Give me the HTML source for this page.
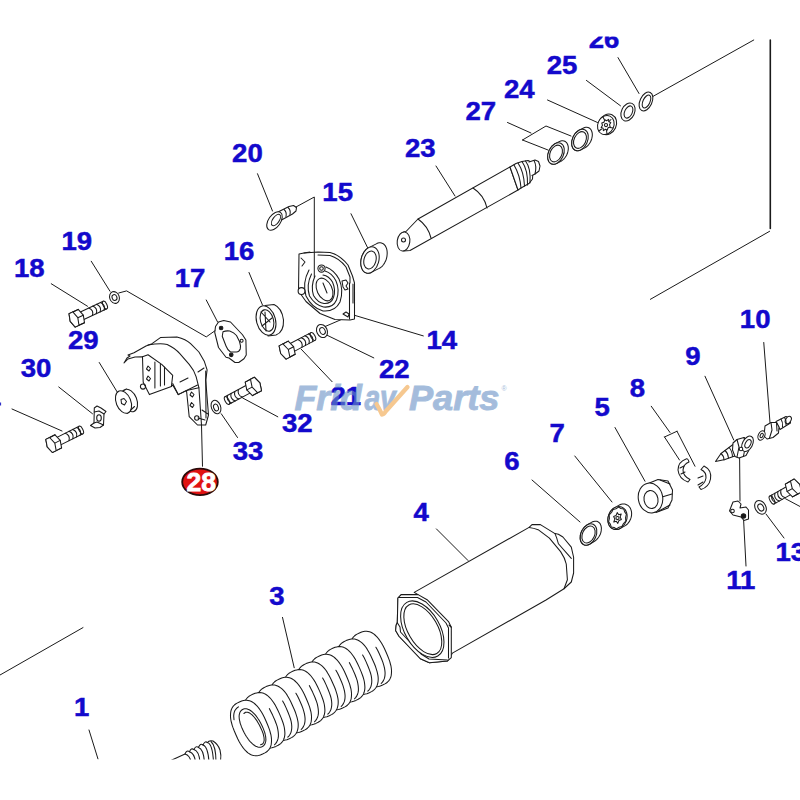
<!DOCTYPE html>
<html><head><meta charset="utf-8"><style>
html,body{margin:0;padding:0;background:#fff;width:800px;height:800px;overflow:hidden}
svg{display:block}
.lb text{font-family:"Liberation Sans",sans-serif;font-weight:bold;font-size:26.5px;fill:#1309cc;stroke:#1309cc;stroke-width:0.5}
.ln{stroke:#1a1a1a;stroke-width:1.0;fill:none;stroke-linecap:round;stroke-linejoin:round}
.pt{stroke:#1a1a1a;stroke-width:1.05;fill:#fff;stroke-linecap:round;stroke-linejoin:round}
.pn{stroke:#1a1a1a;stroke-width:1.05;fill:none;stroke-linecap:round;stroke-linejoin:round}
</style></head><body>
<svg width="800" height="800" viewBox="0 0 800 800">
<rect width="800" height="800" fill="#fff"/>
<g class="ln" id="leaders">
<path d="M618 57.6 L639 93.5"/>
<path d="M586.4 80.4 L620.5 105.8"/>
<path d="M547.5 100 L597.5 122.5"/>
<path d="M651 97.5 L753.75 40"/>
<path d="M770.3 40 L770.3 228.4" style="stroke-width:1.6"/>
<path d="M769.6 231.3 L650.4 299.3"/>
<path d="M436 166 L455 196"/>
<path d="M257.5 173.75 L272.5 211"/>
<path d="M351 213.75 L367.5 247.5"/>
<path d="M249 272.5 L262.5 305"/>
<path d="M91.25 261.25 L110 291.25"/>
<path d="M51.25 283.75 L87.5 306.25"/>
<path d="M99.25 362.5 L117.5 392.5"/>
<path d="M58.75 387 L92.5 413.75"/>
<path d="M12 409 L62 431"/>
<path d="M354.5 315.3 L423.3 335.9"/>
<path d="M325.6 334.5 L373.8 357.9"/>
<path d="M301.2 349.2 L332.1 381.7"/>
<path d="M242.7 398 L277.8 416.8"/>
<path d="M221.25 413.75 L237.5 437.5"/>
<path d="M201.5 425 L202.5 466.25"/>
<path d="M763.75 342.5 L770 422.5"/>
<path d="M705 376.25 L733.75 440"/>
<path d="M651.25 406.25 L670 432.5"/>
<path d="M615 427.5 L645 481.25"/>
<path d="M574.8 456 L612 502"/>
<path d="M532 480 L580 522"/>
<path d="M739.6 457 L740 501"/>
<path d="M743.6 520 L746 566"/>
<path d="M766 514 L784 538"/>
<path d="M436.4 528.9 L468 560.5"/>
<path d="M282.5 617.4 L294.2 667.7"/>
<path d="M89 730 L98 759"/>
<path d="M0 675 L83 627.6"/>
<path d="M785.6 498.8 L800 506.5"/>
</g>
<g class="pt">
<path d="M81.2 320.8 L106.8 308.8 L103.2 301.2 L77.7 313.2 Z"/>
<ellipse cx="105.0" cy="305.0" rx="1.9" ry="4.2" transform="rotate(-25.1 105.0 305.0)"/>
<path class="pn" d="M92.4 315.5 Q94.1 310.1 88.9 307.9"/>
<path class="pn" d="M96.3 313.7 Q98.0 308.3 92.8 306.1"/>
<path class="pn" d="M100.2 311.9 Q101.8 306.5 96.6 304.3"/>
<path class="pn" d="M104.1 310.1 Q105.7 304.7 100.5 302.5"/>
<path d="M69.0 313.7 L74.4 311.2 L78.2 309.4 L83.3 315.2 L84.5 322.7 L80.6 324.5 L75.2 327.1 L70.2 321.3 Z"/>
<path class="pn" d="M77.8 317.7 L83.3 315.2"/>
<path class="pn" d="M79.0 325.3 L84.5 322.7"/>
<path class="pn" d="M72.8 311.9 L78.2 309.4"/>
<path d="M77.8 317.7 L79.0 325.3 L75.2 327.1 L70.2 321.3 L69.0 313.7 L72.8 311.9 Z"/>
</g>
<g class="pt">
<path d="M58.2 446.1 L82.9 433.8 L79.1 426.2 L54.5 438.6 Z"/>
<ellipse cx="81.0" cy="430.0" rx="1.9" ry="4.2" transform="rotate(-26.6 81.0 430.0)"/>
<path class="pn" d="M69.0 440.7 Q70.5 435.2 65.2 433.2"/>
<path class="pn" d="M72.8 438.8 Q74.3 433.4 69.0 431.3"/>
<path class="pn" d="M76.5 436.9 Q78.0 431.5 72.7 429.4"/>
<path class="pn" d="M80.3 435.1 Q81.8 429.6 76.5 427.6"/>
<path d="M45.8 439.4 L51.2 436.7 L55.0 434.8 L60.2 440.4 L61.6 447.9 L57.8 449.9 L52.4 452.5 L47.2 446.9 Z"/>
<path class="pn" d="M54.8 443.1 L60.2 440.4"/>
<path class="pn" d="M56.2 450.6 L61.6 448.0"/>
<path class="pn" d="M49.6 437.5 L55.0 434.8"/>
<path d="M54.8 443.1 L56.2 450.6 L52.4 452.5 L47.2 446.9 L45.8 439.4 L49.6 437.5 Z"/>
</g>
<g class="pt">
<path d="M291.9 352.6 L315.0 340.4 L311.0 332.6 L287.8 344.8 Z"/>
<ellipse cx="313.0" cy="336.5" rx="2.0" ry="4.4" transform="rotate(-27.8 313.0 336.5)"/>
<path class="pn" d="M301.9 347.3 Q303.3 341.6 297.8 339.5"/>
<path class="pn" d="M305.4 345.5 Q306.9 339.7 301.3 337.7"/>
<path class="pn" d="M309.0 343.6 Q310.4 337.8 304.9 335.8"/>
<path class="pn" d="M312.6 341.7 Q314.0 336.0 308.5 333.9"/>
<path d="M279.1 345.9 L288.2 341.1 L293.6 346.7 L295.2 354.3 L291.4 356.3 L286.1 359.1 L280.7 353.5 Z"/>
<path class="pn" d="M288.3 349.5 L293.6 346.7"/>
<path class="pn" d="M289.9 357.1 L295.2 354.3"/>
<path class="pn" d="M282.9 343.9 L288.2 341.1"/>
<path d="M288.3 349.5 L289.9 357.1 L286.1 359.1 L280.7 353.5 L279.1 345.9 L282.9 343.9 Z"/>
</g>
<g class="pt">
<path d="M248.7 384.0 L225.0 396.7 L229.0 404.3 L252.7 391.6 Z"/>
<ellipse cx="227.0" cy="400.5" rx="1.9" ry="4.3" transform="rotate(151.9 227.0 400.5)"/>
<path class="pn" d="M238.4 389.5 Q237.0 395.2 242.4 397.1"/>
<path class="pn" d="M234.8 391.5 Q233.4 397.1 238.8 399.1"/>
<path class="pn" d="M231.1 393.4 Q229.7 399.0 235.2 401.0"/>
<path class="pn" d="M227.5 395.4 Q226.1 401.0 231.6 402.9"/>
<path d="M245.2 382.1 L254.3 377.2 L259.9 382.9 L261.5 390.7 L257.6 392.8 L252.4 395.6 L246.8 389.9 Z"/>
<path class="pn" d="M252.1 387.1 L246.8 389.9"/>
<path class="pn" d="M250.5 379.3 L245.2 382.1"/>
<path class="pn" d="M257.7 392.8 L252.4 395.6"/>
<path d="M252.1 387.1 L250.5 379.3 L254.3 377.2 L259.9 382.9 L261.5 390.7 L257.7 392.8 Z"/>
</g>
<g class="pt">
<path d="M788.6 485.5 L769.8 496.1 L774.2 503.9 L793.0 493.4 Z"/>
<ellipse cx="772.0" cy="500.0" rx="2.0" ry="4.5" transform="rotate(150.6 772.0 500.0)"/>
<path class="pn" d="M780.9 489.8 Q779.6 495.7 785.3 497.7"/>
<path class="pn" d="M777.9 491.5 Q776.6 497.4 782.3 499.4"/>
<path class="pn" d="M774.9 493.2 Q773.6 499.1 779.3 501.1"/>
<path class="pn" d="M771.9 494.9 Q770.6 500.8 776.3 502.7"/>
<path d="M785.3 484.1 L789.0 482.0 L794.2 479.0 L799.7 484.4 L801.5 491.9 L797.8 494.0 L792.5 496.9 L787.1 491.5 Z"/>
<path class="pn" d="M792.3 488.6 L787.1 491.5"/>
<path class="pn" d="M790.5 481.1 L785.3 484.1"/>
<path class="pn" d="M797.8 494.0 L792.5 496.9"/>
<path d="M792.3 488.6 L790.5 481.1 L794.2 479.0 L799.7 484.4 L801.5 491.9 L797.8 494.0 Z"/>
</g><g id="p4" class="pt">
<path d="M414.2 592.4 L529.1 527.4 L532 524.6 L540.4 524.6 L555 533.6 L558.4 534.2 L562.9 537 L571.3 547.1 L573.6 557.25 L573.6 573 L571.3 582 L564 588.75 L546 600 L452.4 653.1 L447.4 661 L429.4 662.7 L420.4 658.75 L399 636.25 L395.6 630.6 L396.2 625 L397.3 622.75 L397.9 598 L401.25 594.6 L418.1 594.6 Z"/>
<path class="pn" d="M529.1 527.4 Q534 528 538.1 529.7 L549.4 538.1 L560.6 551.6 Q565 558 566.25 564 L567.4 579.75 L564 588.75"/>
<path class="pn" d="M555 533.6 Q557 538 558.4 543.75 L571.3 558.4"/>
<path d="M397.9 598 L401.25 594.6 L418.1 594.6 L427.1 599.7 L448.5 621.6 L451.3 627.25 L451.3 657.6 L447.4 661 L429.4 662.7 L420.4 658.75 L399 636.25 L395.6 630.6 L396.2 625 L397.3 622.75 Z"/>
<path class="pn" d="M398.5 597.5 L417.5 597.5 L426 602 L446 623 L448.5 628 L448.5 658 M449 625 L451.3 627.25"/>
<path class="pn" d="M397.3 622.75 L400 627 L400.5 632 L421 654 L429 659 L447.4 660"/>
<ellipse cx="422.3" cy="629.2" rx="17.5" ry="31" transform="rotate(-30 422.3 629.2)"/>
<ellipse cx="422.8" cy="629.2" rx="14.8" ry="28" transform="rotate(-30 422.8 629.2)"/>
</g>
<g id="p28" class="pt">
<path d="M124 363 L127 358 L130 356 L128 355 L134 352.7 L146 346 L152 343.7 L160.4 337.6 L176.9 336.9 Q186 339 190.6 343.7 L198.9 352 L204.4 361.6 L207.1 369.9 L206.4 375.4 L205.7 380 L208.5 415 L205.7 425 L197.5 425 L189.2 416.6 L186.5 390.5 L178.2 394.6 L172.7 385 L171.4 386.4 L149.4 394.6 L143.2 382.2 L142.5 356.8 L135 357 L128 359 Z"/>
<path class="pn" d="M148 345 Q160 343 167.2 344.4 Q175 348 179.6 353.4 L189.2 364.4 Q194 370 196.1 376.7 L198.9 387.7 L186.5 390.5"/>
<path class="pn" d="M142.5 356.8 L148 354.7 L161.7 364.4 L172.7 375.4 L171.4 386.4"/>
<path class="pn" d="M172.7 383.6 L178.2 394.6 M178.2 394.6 L197.5 385"/>
<path class="pn" d="M154.9 362 L154.9 388 M160.4 364 L160.4 386 M164.5 367 L164.5 385"/>
<path class="pn" d="M198.9 387.7 L201.5 425 M205.7 371 L206 418 M202 410 L208 414 M198 418 L205 420"/>
<path class="pn" d="M180 382 L188 378 M198 372 L204 368"/>
<path class="pn" d="M148 366 l2.5 2.5 l-1.5 2.5 l-2.5 -2 Z M148 376 l2.5 2.5 l-1.5 2.5 l-2.5 -2 Z M191.5 392 l2.5 2.5 l-1.5 2.5 l-2.5 -2 Z M191.5 402.5 l2.5 2.5 l-1.5 2.5 l-2.5 -2 Z"/>
<circle class="pn" cx="143" cy="386.5" r="2.6"/>
<circle class="pn" cx="196.8" cy="418" r="2.2"/>
</g>
<g id="p29" class="pt">
<ellipse cx="129.5" cy="400.5" rx="7.3" ry="11.8" transform="rotate(-22 129.5 400.5)"/>
<path d="M118 395 L126 388.5 L134 405 L127 413.5 Z" style="stroke:none"/>
<path class="pn" d="M119.5 393 L126.5 389 M127 413.5 L134.5 406.5"/>
<ellipse cx="123.5" cy="402" rx="7.3" ry="11.8" transform="rotate(-22 123.5 402)"/>
<path class="pn" d="M121 399.5 l3 -1 l2.5 3 l-2 3.5 l-3 -1.5 Z"/>
</g>
<g id="p33" class="pt">
<ellipse cx="216" cy="407" rx="4.6" ry="7" transform="rotate(-20 216 407)"/>
<ellipse cx="216" cy="407.5" rx="2.3" ry="3.5" transform="rotate(-20 216 407.5)"/>
</g>
<g id="p17" class="pt">
<path d="M218.5 322 L223.75 320.5 L230.5 322 L242.5 334.75 L245.9 340 L246.25 355 L244 358.75 L238.75 362.5 L235 362.5 L229 358 L226 357.25 L218.5 347.5 L214.75 332.5 L215.5 326.5 Z"/>
<path d="M223 331.75 Q226 330.5 229.75 331 Q234 332.5 236.5 335.5 L239.5 341.5 Q241 346 240.25 349 Q239 352 236.5 352 L230.5 352 Q227.5 350 226 346 L222.25 336.25 Z"/>
<circle cx="221.1" cy="328" r="1.8" fill="#1a1a1a"/>
<circle cx="231.25" cy="354.8" r="1.8" fill="#1a1a1a"/>
<circle cx="241.6" cy="340.8" r="1.5"/>
</g>
<path class="ln" d="M118.75 293 L126.6 290.9 L206.25 336.9 L215 330.75"/>
<path class="ln" d="M206.25 300 L217.6 322"/>
<g id="p19" class="pt">
<ellipse cx="114.5" cy="297.5" rx="4.8" ry="6" transform="rotate(-20 114.5 297.5)"/>
<ellipse cx="114.5" cy="297.5" rx="2.4" ry="3" transform="rotate(-20 114.5 297.5)"/>
</g>
<g id="p16" class="pt">
<path d="M265 305.5 L274 304.5 Q282 308 283.5 320 Q284 332 276 335 L268 336 Z"/>
<ellipse cx="266" cy="320.5" rx="9.5" ry="15" transform="rotate(-15 266 320.5)"/>
<ellipse cx="267" cy="320.5" rx="6.5" ry="11" transform="rotate(-15 267 320.5)"/>
<path class="pn" d="M261 312 L270 322 M262 326 L272 318 M265 312 L266 331"/>
</g>
<g id="p22" class="pt">
<ellipse cx="322" cy="331" rx="5.2" ry="6.8" transform="rotate(-25 322 331)"/>
<ellipse cx="322.5" cy="331" rx="2.6" ry="3.5" transform="rotate(-25 322.5 331)"/>
</g>
<path class="ln" d="M325.6 326.3 L344.9 318"/>
<g id="p30" class="pt">
<path d="M94.3 408 L97 406 L101 408 L106 411.5 L104 414 L103.5 425 L100 427.5 L95 428 L90.5 425.5 L94 423 Z"/>
<path class="pn" d="M94.3 412 L99 411 L104 414 M94 423 L97 422 L103.5 425"/>
<ellipse class="pn" cx="99" cy="418" rx="2.3" ry="3.2"/>
</g>
<g id="p6" class="pt">
<path d="M580.1 538.1 L580.2 536.8 L580.3 535.4 L580.6 534.0 L581.0 532.6 L581.6 531.3 L582.3 530.0 L583.1 528.8 L584.0 527.6 L584.9 526.6 L585.9 525.8 L587.0 525.0 L591.5 522.4 L592.6 521.8 L593.7 521.4 L594.7 521.2 L595.8 521.2 L596.8 521.3 L597.7 521.6 L598.6 522.2 L599.4 522.8 L600.0 523.6 L600.5 524.6 L601.0 525.7 L601.2 526.9 L601.4 528.2 L601.3 529.5 L601.2 530.9 L600.9 532.3 L600.5 533.7 L599.9 535.0 L599.2 536.3 L598.4 537.5 L597.5 538.6 L596.6 539.7 L595.6 540.5 L594.5 541.2 L590.0 544.0 L588.9 544.5 L587.8 544.9 L586.8 545.1 L585.7 545.1 L584.7 545.0 L583.8 544.6 L582.9 544.1 L582.1 543.5 L581.5 542.6 L581.0 541.7 L580.5 540.6 L580.3 539.4 Z"/>
<ellipse cx="588.5" cy="534.5" rx="7.6" ry="11.2" transform="rotate(25 588.5 534.5)"/>
<ellipse cx="588.5" cy="534.5" rx="6.08" ry="8.96" transform="rotate(25 588.5 534.5)"/>

</g>
<g id="p7" class="pt">
<path d="M607.9 519.3 L608.0 517.8 L608.3 516.3 L608.8 514.8 L609.4 513.4 L610.1 512.1 L611.0 510.8 L612.0 509.7 L613.0 508.7 L614.2 507.9 L618.7 505.4 L619.9 504.8 L621.1 504.3 L622.4 504.0 L623.6 504.0 L624.9 504.1 L626.0 504.4 L627.1 504.9 L628.2 505.6 L629.1 506.5 L629.9 507.5 L630.5 508.6 L631.0 509.9 L631.4 511.3 L631.6 512.7 L631.6 514.2 L631.5 515.7 L631.2 517.2 L630.7 518.7 L630.1 520.1 L629.4 521.4 L628.5 522.7 L627.5 523.8 L626.5 524.8 L625.3 525.6 L620.8 528.1 L619.6 528.7 L618.4 529.2 L617.1 529.5 L615.9 529.5 L614.6 529.4 L613.5 529.1 L612.4 528.6 L611.3 527.9 L610.4 527.0 L609.6 526.0 L609.0 524.9 L608.5 523.6 L608.1 522.2 L607.9 520.8 Z"/>
<ellipse cx="617.5" cy="518.0" rx="9.3" ry="11.8" transform="rotate(20 617.5 518.0)"/>

<path class="pn" d="M625.8 521.0 L623.5 523.5 L621.9 526.6 L619.1 527.3 L616.4 528.9 L614.1 527.5 L611.3 527.1 L610.3 524.1 L608.6 521.8 L609.4 518.4 L609.2 515.0 L611.5 512.5 L613.1 509.4 L615.9 508.7 L618.6 507.1 L620.9 508.5 L623.7 508.9 L624.7 511.9 L626.4 514.2 L625.6 517.6 Z"/>
<path class="pn" d="M621.4 519.4 L619.0 520.4 L617.8 523.4 L616.3 521.3 L613.8 522.0 L614.9 518.9 L613.6 516.6 L616.0 515.6 L617.2 512.6 L618.7 514.7 L621.2 514.0 L620.1 517.1 Z"/>
<circle class="pn" cx="617.5" cy="518" r="1.6"/>
</g>
<g id="p5" class="pt">
<path d="M647 484 L658 479.5 L668 481 L672.5 490 L672 500 L668 508 L656 512.5 Z"/>
<path class="pn" d="M660 480 L670 484 M662 497 L672 494 M658 511.5 L670 505"/>
<ellipse cx="650.5" cy="498" rx="12.2" ry="15" transform="rotate(-10 650.5 498)"/>
<ellipse cx="651" cy="499.5" rx="7" ry="9" transform="rotate(-10 651 499.5)"/>
</g>
<g id="p8" class="pt">
<path d="M686 459 Q678 462 678 470 Q679 479 688 482 L690 479.5 Q683 476 683 470 Q683.5 464 689 462 Q688 458 686 459 Z"/>
<path class="pn" d="M680 468 L684 466 M681 474 L685 472"/>
<path d="M704 466 Q712 470 710.5 479 Q709 487 701 489.5 L699 487 Q705 484 706 478 Q706.5 472 701 469.5 Z"/>
<path class="pn" d="M698 478 L703 476 M698 485 L703 482"/>
</g>
<path class="ln" d="M664.5 437 L677 431.25 M664.5 437 L679.5 460 M677 431.25 L695 466.25"/>
<g id="p9" class="pt">
<path d="M715.5 461.5 L721 453.5 L733 444.5 L737.5 455 L725 459.5 Z"/>
<path class="pn" d="M721 453.5 Q724 456 724 460 M725 450.5 Q728 453 728.5 458 M729 447.5 Q732 450.5 732.5 456.5"/>
<path d="M733 443 L737 439.5 L744 437.5 L748 441 L749 450 L746 455.5 L739 458 L735 456.5 L732.5 450 Z"/>
<path class="pn" d="M737 439.5 L739 447 L737 457 M744 437.5 L745.5 446 L743.5 456"/>
<ellipse cx="747.5" cy="443.8" rx="5" ry="8.3" transform="rotate(28 747.5 443.8)"/>
<ellipse cx="748" cy="443.8" rx="2.6" ry="4.5" transform="rotate(28 748 443.8)"/>
<circle cx="741" cy="449" r="1.8"/>
</g>
<g id="p10" class="pt">
<path d="M776 421.5 L786 416.5 L790 418.5 L790.5 423 L780 429.5 Z"/>
<ellipse cx="788.3" cy="420" rx="2.6" ry="4" transform="rotate(30 788.3 420)"/>
<path class="pn" d="M781 419 Q783 422 782.5 427 M784.5 417.5 Q786.5 420 786 425"/>
<path d="M765 426 L771 422.5 L776.5 422.5 L779 427 L778.5 433 L773 437.5 L767 439 L764 436 Z"/>
<path class="pn" d="M771 422.5 L772 430 L769.5 438 M776.5 422.5 L777 431"/>
<ellipse cx="761.5" cy="435.5" rx="3.2" ry="5" transform="rotate(25 761.5 435.5)"/>
<ellipse cx="761.7" cy="435.5" rx="1.4" ry="2.3" transform="rotate(25 761.7 435.5)"/>
</g>
<g id="p11" class="pt">
<path d="M733 502 L738 501 L741 504 L740 508 L746 507 L748.5 510 L748.5 519 L744 520.5 L741 517 L737 516 L733 515 L729.5 511 L731 507 Z"/>
<circle class="pn" cx="732.5" cy="511" r="1.8"/>
<circle cx="743.5" cy="516" r="2.2" fill="#1a1a1a"/>
</g>
<g id="p13" class="pt">
<ellipse cx="760.5" cy="507.3" rx="5.3" ry="7.3" transform="rotate(-30 760.5 507.3)"/>
<ellipse cx="760.8" cy="507.5" rx="2.7" ry="3.7" transform="rotate(-30 760.8 507.5)"/>
</g>
<g id="p3" class="pt">
<path d="M386.1 652.3 L387.8 656.3 L388.9 659.1 L389.8 661.7 L390.4 664.0 L391.0 666.2 L391.3 668.3 L391.5 670.2 L391.5 672.1 L391.4 673.8 L391.2 675.4 L390.8 677.0 L390.2 678.4 L389.5 679.7 L388.7 680.9 L387.6 682.0 L386.4 683.0 L384.9 683.9 L382.6 685.0 L380.3 686.0 L378.5 686.5 L377.0 686.7 L375.4 686.8 L374.0 686.6 L372.5 686.2 L371.1 685.7 L369.7 685.0 L368.3 684.1 L367.0 683.0 L365.6 681.7 L364.3 680.3 L363.0 678.6 L361.7 676.8 L360.4 674.7 L359.1 672.4 L357.7 669.7 L355.9 665.7 L354.2 661.7 L353.1 658.9 L352.2 656.3 L351.6 654.0 L351.0 651.8 L350.7 649.7 L350.5 647.8 L350.5 645.9 L350.6 644.2 L350.8 642.6 L351.2 641.0 L351.8 639.6 L352.5 638.3 L353.3 637.1 L354.4 636.0 L355.6 635.0 L357.1 634.1 L359.4 633.0 L361.7 632.0 L363.5 631.5 L365.0 631.3 L366.6 631.2 L368.0 631.4 L369.5 631.8 L370.9 632.3 L372.3 633.0 L373.7 633.9 L375.0 635.0 L376.4 636.3 L377.7 637.7 L379.0 639.4 L380.3 641.2 L381.6 643.3 L382.9 645.6 L384.3 648.3 Z"/>
<path class="pn" d="M375.9 647.3 L377.5 650.1 L379.3 653.8 L381.6 659.0 L382.9 662.4 L383.8 665.4 L384.5 668.1 L384.9 670.6 L385.1 672.9 L385.0 675.1 L384.7 677.1 L384.2 678.9 L383.4 680.6 L382.4 682.1 L381.2 683.5"/>
<path d="M372.7 660.0 L374.5 664.0 L375.6 666.8 L376.4 669.3 L377.1 671.7 L377.6 673.9 L378.0 675.9 L378.2 677.9 L378.2 679.7 L378.1 681.5 L377.8 683.1 L377.4 684.6 L376.9 686.0 L376.2 687.3 L375.3 688.5 L374.3 689.6 L373.0 690.7 L371.5 691.6 L369.3 692.7 L366.9 693.7 L365.2 694.1 L363.6 694.4 L362.1 694.4 L360.6 694.3 L359.2 693.9 L357.8 693.4 L356.4 692.7 L355.0 691.8 L353.6 690.7 L352.3 689.4 L351.0 688.0 L349.7 686.3 L348.4 684.5 L347.1 682.4 L345.8 680.1 L344.4 677.3 L342.6 673.4 L340.9 669.4 L339.8 666.5 L338.9 664.0 L338.2 661.7 L337.7 659.5 L337.4 657.4 L337.2 655.4 L337.1 653.6 L337.2 651.9 L337.5 650.2 L337.9 648.7 L338.4 647.3 L339.1 646.0 L340.0 644.8 L341.1 643.7 L342.3 642.7 L343.8 641.7 L346.1 640.6 L348.4 639.7 L350.1 639.2 L351.7 638.9 L353.2 638.9 L354.7 639.1 L356.1 639.4 L357.6 640.0 L359.0 640.7 L360.3 641.6 L361.7 642.7 L363.0 643.9 L364.4 645.4 L365.7 647.0 L367.0 648.9 L368.2 650.9 L369.5 653.3 L370.9 656.0 Z"/>
<path class="pn" d="M362.6 655.0 L364.2 657.8 L365.9 661.4 L368.2 666.7 L369.5 670.1 L370.5 673.0 L371.2 675.7 L371.6 678.2 L371.8 680.6 L371.7 682.7 L371.4 684.7 L370.9 686.6 L370.1 688.3 L369.1 689.8 L367.8 691.1"/>
<path d="M359.4 667.6 L361.1 671.6 L362.2 674.5 L363.1 677.0 L363.8 679.3 L364.3 681.5 L364.6 683.6 L364.8 685.6 L364.9 687.4 L364.8 689.1 L364.5 690.8 L364.1 692.3 L363.6 693.7 L362.9 695.0 L362.0 696.2 L360.9 697.3 L359.7 698.3 L358.2 699.3 L355.9 700.4 L353.6 701.3 L351.9 701.8 L350.3 702.1 L348.8 702.1 L347.3 701.9 L345.9 701.6 L344.4 701.0 L343.0 700.3 L341.7 699.4 L340.3 698.3 L339.0 697.1 L337.6 695.6 L336.3 694.0 L335.0 692.1 L333.8 690.1 L332.5 687.7 L331.1 685.0 L329.3 681.0 L327.5 677.0 L326.4 674.2 L325.6 671.7 L324.9 669.3 L324.4 667.1 L324.0 665.1 L323.8 663.1 L323.8 661.3 L323.9 659.5 L324.2 657.9 L324.6 656.4 L325.1 655.0 L325.8 653.7 L326.7 652.5 L327.7 651.4 L329.0 650.3 L330.5 649.4 L332.7 648.3 L335.1 647.3 L336.8 646.9 L338.4 646.6 L339.9 646.6 L341.4 646.7 L342.8 647.1 L344.2 647.6 L345.6 648.3 L347.0 649.2 L348.4 650.3 L349.7 651.6 L351.0 653.0 L352.3 654.7 L353.6 656.5 L354.9 658.6 L356.2 660.9 L357.6 663.7 Z"/>
<path class="pn" d="M349.3 662.6 L350.8 665.5 L352.6 669.1 L354.9 674.3 L356.2 677.7 L357.2 680.7 L357.8 683.4 L358.2 685.9 L358.4 688.2 L358.4 690.4 L358.1 692.4 L357.5 694.3 L356.8 695.9 L355.8 697.4 L354.5 698.8"/>
<path d="M346.1 675.3 L347.8 679.3 L348.9 682.1 L349.8 684.7 L350.4 687.0 L351.0 689.2 L351.3 691.3 L351.5 693.2 L351.5 695.1 L351.4 696.8 L351.2 698.4 L350.8 700.0 L350.2 701.4 L349.5 702.7 L348.7 703.9 L347.6 705.0 L346.4 706.0 L344.9 706.9 L342.6 708.0 L340.3 709.0 L338.5 709.5 L337.0 709.7 L335.4 709.8 L334.0 709.6 L332.5 709.2 L331.1 708.7 L329.7 708.0 L328.3 707.1 L327.0 706.0 L325.6 704.7 L324.3 703.3 L323.0 701.6 L321.7 699.8 L320.4 697.7 L319.1 695.4 L317.7 692.7 L315.9 688.7 L314.2 684.7 L313.1 681.9 L312.2 679.3 L311.6 677.0 L311.0 674.8 L310.7 672.7 L310.5 670.8 L310.5 668.9 L310.6 667.2 L310.8 665.6 L311.2 664.0 L311.8 662.6 L312.5 661.3 L313.3 660.1 L314.4 659.0 L315.6 658.0 L317.1 657.1 L319.4 656.0 L321.7 655.0 L323.5 654.5 L325.0 654.3 L326.6 654.2 L328.0 654.4 L329.5 654.8 L330.9 655.3 L332.3 656.0 L333.7 656.9 L335.0 658.0 L336.4 659.3 L337.7 660.7 L339.0 662.4 L340.3 664.2 L341.6 666.3 L342.9 668.6 L344.3 671.3 Z"/>
<path class="pn" d="M335.9 670.3 L337.5 673.1 L339.3 676.8 L341.6 682.0 L342.9 685.4 L343.8 688.4 L344.5 691.1 L344.9 693.6 L345.1 695.9 L345.0 698.1 L344.7 700.1 L344.2 701.9 L343.4 703.6 L342.4 705.1 L341.2 706.5"/>
<path d="M332.7 683.0 L334.5 687.0 L335.6 689.8 L336.4 692.3 L337.1 694.7 L337.6 696.9 L338.0 698.9 L338.2 700.9 L338.2 702.7 L338.1 704.5 L337.8 706.1 L337.4 707.6 L336.9 709.0 L336.2 710.3 L335.3 711.5 L334.3 712.6 L333.0 713.7 L331.5 714.6 L329.3 715.7 L326.9 716.7 L325.2 717.1 L323.6 717.4 L322.1 717.4 L320.6 717.3 L319.2 716.9 L317.8 716.4 L316.4 715.7 L315.0 714.8 L313.6 713.7 L312.3 712.4 L311.0 711.0 L309.7 709.3 L308.4 707.5 L307.1 705.4 L305.8 703.1 L304.4 700.3 L302.6 696.4 L300.9 692.4 L299.8 689.5 L298.9 687.0 L298.2 684.7 L297.7 682.5 L297.4 680.4 L297.2 678.4 L297.1 676.6 L297.2 674.9 L297.5 673.2 L297.9 671.7 L298.4 670.3 L299.1 669.0 L300.0 667.8 L301.1 666.7 L302.3 665.7 L303.8 664.7 L306.1 663.6 L308.4 662.7 L310.1 662.2 L311.7 661.9 L313.2 661.9 L314.7 662.1 L316.1 662.4 L317.6 663.0 L319.0 663.7 L320.3 664.6 L321.7 665.7 L323.0 666.9 L324.4 668.4 L325.7 670.0 L327.0 671.9 L328.2 673.9 L329.5 676.3 L330.9 679.0 Z"/>
<path class="pn" d="M322.6 678.0 L324.2 680.8 L325.9 684.4 L328.2 689.7 L329.5 693.1 L330.5 696.0 L331.2 698.7 L331.6 701.2 L331.8 703.6 L331.7 705.7 L331.4 707.7 L330.9 709.6 L330.1 711.3 L329.1 712.8 L327.8 714.1"/>
<path d="M319.4 690.6 L321.1 694.6 L322.2 697.5 L323.1 700.0 L323.8 702.3 L324.3 704.5 L324.6 706.6 L324.8 708.6 L324.9 710.4 L324.8 712.1 L324.5 713.8 L324.1 715.3 L323.6 716.7 L322.9 718.0 L322.0 719.2 L320.9 720.3 L319.7 721.3 L318.2 722.3 L315.9 723.4 L313.6 724.3 L311.9 724.8 L310.3 725.1 L308.8 725.1 L307.3 724.9 L305.9 724.6 L304.4 724.0 L303.0 723.3 L301.7 722.4 L300.3 721.3 L299.0 720.1 L297.6 718.6 L296.3 717.0 L295.0 715.1 L293.8 713.1 L292.5 710.7 L291.1 708.0 L289.3 704.0 L287.5 700.0 L286.4 697.2 L285.6 694.7 L284.9 692.3 L284.4 690.1 L284.0 688.1 L283.8 686.1 L283.8 684.3 L283.9 682.5 L284.2 680.9 L284.6 679.4 L285.1 678.0 L285.8 676.7 L286.7 675.5 L287.7 674.4 L289.0 673.3 L290.5 672.4 L292.7 671.3 L295.1 670.3 L296.8 669.9 L298.4 669.6 L299.9 669.6 L301.4 669.7 L302.8 670.1 L304.2 670.6 L305.6 671.3 L307.0 672.2 L308.4 673.3 L309.7 674.6 L311.0 676.0 L312.3 677.7 L313.6 679.5 L314.9 681.6 L316.2 683.9 L317.6 686.7 Z"/>
<path class="pn" d="M309.3 685.6 L310.8 688.5 L312.6 692.1 L314.9 697.3 L316.2 700.7 L317.2 703.7 L317.8 706.4 L318.2 708.9 L318.4 711.2 L318.4 713.4 L318.1 715.4 L317.5 717.3 L316.8 718.9 L315.8 720.4 L314.5 721.8"/>
<path d="M306.1 698.3 L307.8 702.3 L308.9 705.1 L309.8 707.7 L310.4 710.0 L311.0 712.2 L311.3 714.3 L311.5 716.2 L311.5 718.1 L311.4 719.8 L311.2 721.4 L310.8 723.0 L310.2 724.4 L309.5 725.7 L308.7 726.9 L307.6 728.0 L306.4 729.0 L304.9 729.9 L302.6 731.0 L300.3 732.0 L298.5 732.5 L297.0 732.7 L295.4 732.8 L294.0 732.6 L292.5 732.2 L291.1 731.7 L289.7 731.0 L288.3 730.1 L287.0 729.0 L285.6 727.7 L284.3 726.3 L283.0 724.6 L281.7 722.8 L280.4 720.7 L279.1 718.4 L277.7 715.7 L275.9 711.7 L274.2 707.7 L273.1 704.9 L272.2 702.3 L271.6 700.0 L271.0 697.8 L270.7 695.7 L270.5 693.8 L270.5 691.9 L270.6 690.2 L270.8 688.6 L271.2 687.0 L271.8 685.6 L272.5 684.3 L273.3 683.1 L274.4 682.0 L275.6 681.0 L277.1 680.1 L279.4 679.0 L281.7 678.0 L283.5 677.5 L285.0 677.3 L286.6 677.2 L288.0 677.4 L289.5 677.8 L290.9 678.3 L292.3 679.0 L293.7 679.9 L295.0 681.0 L296.4 682.3 L297.7 683.7 L299.0 685.4 L300.3 687.2 L301.6 689.3 L302.9 691.6 L304.3 694.3 Z"/>
<path class="pn" d="M295.9 693.3 L297.5 696.1 L299.3 699.8 L301.6 705.0 L302.9 708.4 L303.8 711.4 L304.5 714.1 L304.9 716.6 L305.1 718.9 L305.0 721.1 L304.7 723.1 L304.2 724.9 L303.4 726.6 L302.4 728.1 L301.2 729.5"/>
<path d="M292.7 706.0 L294.5 710.0 L295.6 712.8 L296.4 715.3 L297.1 717.7 L297.6 719.9 L298.0 721.9 L298.2 723.9 L298.2 725.7 L298.1 727.5 L297.8 729.1 L297.4 730.6 L296.9 732.0 L296.2 733.3 L295.3 734.5 L294.3 735.6 L293.0 736.7 L291.5 737.6 L289.3 738.7 L286.9 739.7 L285.2 740.1 L283.6 740.4 L282.1 740.4 L280.6 740.3 L279.2 739.9 L277.8 739.4 L276.4 738.7 L275.0 737.8 L273.6 736.7 L272.3 735.4 L271.0 734.0 L269.7 732.3 L268.4 730.5 L267.1 728.4 L265.8 726.1 L264.4 723.3 L262.6 719.4 L260.9 715.4 L259.8 712.5 L258.9 710.0 L258.2 707.7 L257.7 705.5 L257.4 703.4 L257.2 701.4 L257.1 699.6 L257.2 697.9 L257.5 696.2 L257.9 694.7 L258.4 693.3 L259.1 692.0 L260.0 690.8 L261.1 689.7 L262.3 688.7 L263.8 687.7 L266.1 686.6 L268.4 685.7 L270.1 685.2 L271.7 684.9 L273.2 684.9 L274.7 685.1 L276.1 685.4 L277.6 686.0 L279.0 686.7 L280.3 687.6 L281.7 688.7 L283.0 689.9 L284.4 691.4 L285.7 693.0 L287.0 694.9 L288.2 696.9 L289.5 699.3 L290.9 702.0 Z"/>
<path class="pn" d="M282.6 701.0 L284.2 703.8 L285.9 707.4 L288.2 712.7 L289.5 716.1 L290.5 719.0 L291.2 721.7 L291.6 724.2 L291.8 726.6 L291.7 728.7 L291.4 730.7 L290.9 732.6 L290.1 734.3 L289.1 735.8 L287.8 737.1"/>
<path d="M279.4 713.6 L281.1 717.6 L282.2 720.5 L283.1 723.0 L283.8 725.3 L284.3 727.5 L284.6 729.6 L284.8 731.6 L284.9 733.4 L284.8 735.1 L284.5 736.8 L284.1 738.3 L283.6 739.7 L282.9 741.0 L282.0 742.2 L280.9 743.3 L279.7 744.3 L278.2 745.3 L275.9 746.4 L273.6 747.3 L271.9 747.8 L270.3 748.1 L268.8 748.1 L267.3 747.9 L265.9 747.6 L264.4 747.0 L263.0 746.3 L261.7 745.4 L260.3 744.3 L259.0 743.1 L257.6 741.6 L256.3 740.0 L255.0 738.1 L253.8 736.1 L252.5 733.7 L251.1 731.0 L249.3 727.0 L247.5 723.0 L246.4 720.2 L245.6 717.7 L244.9 715.3 L244.4 713.1 L244.0 711.1 L243.8 709.1 L243.8 707.3 L243.9 705.5 L244.2 703.9 L244.6 702.4 L245.1 701.0 L245.8 699.7 L246.7 698.5 L247.7 697.4 L249.0 696.3 L250.5 695.4 L252.7 694.3 L255.1 693.3 L256.8 692.9 L258.4 692.6 L259.9 692.6 L261.4 692.7 L262.8 693.1 L264.2 693.6 L265.6 694.3 L267.0 695.2 L268.4 696.3 L269.7 697.6 L271.0 699.0 L272.3 700.7 L273.6 702.5 L274.9 704.6 L276.2 706.9 L277.6 709.7 Z"/>
<path class="pn" d="M269.3 708.6 L270.8 711.5 L272.6 715.1 L274.9 720.3 L276.2 723.7 L277.2 726.7 L277.8 729.4 L278.2 731.9 L278.4 734.2 L278.4 736.4 L278.1 738.4 L277.5 740.3 L276.8 741.9 L275.8 743.4 L274.5 744.8"/>
<path d="M266.1 721.3 L267.8 725.3 L268.9 728.1 L269.8 730.7 L270.4 733.0 L271.0 735.2 L271.3 737.3 L271.5 739.2 L271.5 741.1 L271.4 742.8 L271.2 744.4 L270.8 746.0 L270.2 747.4 L269.5 748.7 L268.7 749.9 L267.6 751.0 L266.4 752.0 L264.9 752.9 L262.6 754.0 L260.3 755.0 L258.5 755.5 L257.0 755.7 L255.4 755.8 L254.0 755.6 L252.5 755.2 L251.1 754.7 L249.7 754.0 L248.3 753.1 L247.0 752.0 L245.6 750.7 L244.3 749.3 L243.0 747.6 L241.7 745.8 L240.4 743.7 L239.1 741.4 L237.7 738.7 L235.9 734.7 L234.2 730.7 L233.1 727.9 L232.2 725.3 L231.6 723.0 L231.0 720.8 L230.7 718.7 L230.5 716.8 L230.5 714.9 L230.6 713.2 L230.8 711.6 L231.2 710.0 L231.8 708.6 L232.5 707.3 L233.3 706.1 L234.4 705.0 L235.6 704.0 L237.1 703.1 L239.4 702.0 L241.7 701.0 L243.5 700.5 L245.0 700.3 L246.6 700.2 L248.0 700.4 L249.5 700.8 L250.9 701.3 L252.3 702.0 L253.7 702.9 L255.0 704.0 L256.4 705.3 L257.7 706.7 L259.0 708.4 L260.3 710.2 L261.6 712.3 L262.9 714.6 L264.3 717.3 Z"/>
<path d="M260.9 723.5 L261.9 725.6 L262.8 727.4 L263.5 729.1 L264.1 730.8 L264.7 732.4 L265.1 734.0 L265.4 735.5 L265.7 736.9 L265.8 738.3 L265.9 739.6 L265.8 740.8 L265.6 741.9 L265.3 742.9 L265.0 743.8 L264.5 744.7 L263.9 745.4 L263.2 746.0 L262.4 746.5 L261.4 747.0 L260.5 747.2 L259.6 747.3 L258.7 747.2 L257.7 747.0 L256.7 746.6 L255.7 746.2 L254.6 745.5 L253.6 744.8 L252.5 743.9 L251.5 742.9 L250.4 741.8 L249.3 740.6 L248.3 739.2 L247.3 737.7 L246.2 736.2 L245.2 734.5 L244.1 732.5 L243.1 730.4 L242.2 728.6 L241.5 726.9 L240.9 725.2 L240.3 723.6 L239.9 722.0 L239.6 720.5 L239.3 719.1 L239.2 717.7 L239.1 716.4 L239.2 715.2 L239.4 714.1 L239.7 713.1 L240.0 712.2 L240.5 711.3 L241.1 710.6 L241.8 710.0 L242.6 709.5 L243.6 709.0 L244.5 708.8 L245.4 708.7 L246.3 708.8 L247.3 709.0 L248.3 709.4 L249.3 709.8 L250.4 710.5 L251.4 711.2 L252.5 712.1 L253.5 713.1 L254.6 714.2 L255.7 715.4 L256.7 716.8 L257.7 718.3 L258.8 719.8 L259.8 721.5 Z"/>
<path class="pn" d="M243.9 713.5 L245.6 712.3 L247.6 712.2 L249.7 713.1 L252.1 714.9 L254.5 717.5 L257.0 720.9 L259.5 725.3 L261.7 729.9 L263.2 733.8 L264.0 737.3 L264.2 740.2 L263.7 742.5 L262.5 744.1 L260.6 744.8"/>
<path class="pn" d="M234.0 719.7 L233.9 718.4 L233.8 717.2 L233.7 716.0 L233.8 714.9 L233.9 713.9 L234.1 712.9 L234.4 711.9 L234.7 711.0 L235.1 710.2 L235.6 709.5 L236.2 708.8 L236.8 708.1 L237.6 707.5 L238.5 706.9"/>
</g><g id="p26" class="pt">
<ellipse cx="646" cy="101.5" rx="6" ry="10" transform="rotate(25 646 101.5)"/>
<ellipse cx="646.5" cy="101.5" rx="3.5" ry="7" transform="rotate(25 646.5 101.5)"/>
</g>
<g id="p25" class="pt">
<ellipse cx="628" cy="112" rx="6.5" ry="9.5" transform="rotate(25 628 112)"/>
<ellipse cx="628.5" cy="112" rx="3.8" ry="6.5" transform="rotate(25 628.5 112)"/>
</g>
<g id="p24" class="pt">
<ellipse cx="607.5" cy="124.3" rx="8.8" ry="10.6" transform="rotate(25 607.5 124.3)"/>
<ellipse cx="605.8" cy="125" rx="8" ry="9.8" transform="rotate(25 605.8 125)"/>
<path class="pn" d="M610.2 126.9 L608.1 127.8 L607.1 130.3 L605.4 129.3 L603.4 130.6 L603.1 128.2 L601.2 127.6 L602.5 125.3 L601.8 123.1 L603.9 122.2 L604.9 119.7 L606.6 120.7 L608.6 119.4 L608.9 121.8 L610.8 122.4 L609.5 124.7 Z"/>
<path class="pn" d="M603 117 L604.5 120 M611 119.5 L609 121.5 M613 128 L610 127.5 M607 134 L606.5 130.5 M599 131 L601.5 129"/>
<circle class="pn" cx="606" cy="125" r="1.6"/>
</g>
<g id="p27a" class="pt">
<path d="M571.7 143.7 L571.7 142.4 L571.9 141.0 L572.2 139.6 L572.6 138.2 L573.2 136.8 L573.9 135.5 L574.7 134.3 L575.5 133.2 L576.5 132.1 L577.5 131.2 L578.6 130.5 L579.6 129.9 L583.6 128.0 L584.7 127.5 L585.8 127.3 L586.9 127.3 L587.9 127.4 L588.8 127.8 L589.6 128.3 L590.4 128.9 L591.0 129.8 L591.5 130.7 L591.9 131.8 L592.2 133.0 L592.3 134.3 L592.3 135.6 L592.1 137.0 L591.8 138.4 L591.4 139.8 L590.8 141.2 L590.1 142.5 L589.3 143.7 L588.5 144.8 L587.5 145.9 L586.5 146.8 L585.4 147.5 L584.4 148.1 L580.4 150.1 L579.3 150.4 L578.2 150.7 L577.1 150.7 L576.1 150.6 L575.2 150.2 L574.4 149.7 L573.6 149.1 L573.0 148.2 L572.5 147.3 L572.1 146.2 L571.8 145.0 Z"/>
<ellipse cx="580.0" cy="140.0" rx="7.5" ry="11.3" transform="rotate(25 580.0 140.0)"/>
<ellipse cx="580.0" cy="140.0" rx="5.85" ry="8.81" transform="rotate(25 580.0 140.0)"/>

</g>
<g id="p27b" class="pt">
<path d="M547.7 157.2 L547.7 155.9 L547.9 154.5 L548.2 153.1 L548.6 151.7 L549.2 150.3 L549.9 149.0 L550.7 147.8 L551.5 146.7 L552.5 145.6 L553.5 144.8 L554.6 144.0 L555.6 143.4 L559.6 141.4 L560.7 141.1 L561.8 140.8 L562.9 140.8 L563.9 140.9 L564.8 141.3 L565.6 141.8 L566.4 142.4 L567.0 143.2 L567.5 144.2 L567.9 145.3 L568.2 146.5 L568.3 147.8 L568.3 149.1 L568.1 150.5 L567.8 151.9 L567.4 153.3 L566.8 154.7 L566.1 156.0 L565.3 157.2 L564.5 158.3 L563.5 159.4 L562.5 160.2 L561.4 161.0 L560.4 161.6 L556.4 163.6 L555.3 163.9 L554.2 164.2 L553.1 164.2 L552.1 164.1 L551.2 163.7 L550.4 163.2 L549.6 162.6 L549.0 161.8 L548.5 160.8 L548.1 159.7 L547.8 158.5 Z"/>
<ellipse cx="556.0" cy="153.5" rx="7.5" ry="11.3" transform="rotate(25 556.0 153.5)"/>
<ellipse cx="556.0" cy="153.5" rx="5.85" ry="8.81" transform="rotate(25 556.0 153.5)"/>

</g>
<path class="ln" d="M507.5 122.5 L531 133 M522.5 140 L546 126 L571 136 M522.5 140 L548 150"/>
<g id="p23" class="pt">
<path d="M403.5 232 L406 231.5 L418 219 L510 167 L518 190 L410 250.5 L403.5 251 Z"/>
<path d="M510 167 L516 163.5 L522 161.5 L528 160.5 L531 162 L533 170 L532.5 179 L529 183.5 L521 188 L518 190 Z"/>
<path d="M529 162 L535 160 L538.5 161.5 L540 166 L539 171 L535 174 L532 175.5"/>
<path class="pn" d="M418 219 Q428 226 431 238"/>
<path class="pn" d="M473 188 Q484 195 487 208"/>
<path class="pn" d="M514 165 Q520 175 521 188 M518 163 Q524 172 524.5 186 M522 161.5 Q528 170 527.5 185 M525.5 161 Q531 168 530 183 M534 160.5 Q537 166 535 174"/>
<ellipse cx="403.5" cy="241.5" rx="6.3" ry="9.6" transform="rotate(8 403.5 241.5)"/>
<circle cx="403.5" cy="240" r="2"/>
</g>
<g id="p20" class="pt">
<path d="M278 212 L289 206.5 L293.5 205.5 L296.5 207.5 L296 211 L292.5 214 L281.5 220 Z"/>
<path class="pn" d="M284 209.5 Q287 212 286 216.5 M288 207.5 Q291 210 290 214.5"/>
<ellipse cx="274.5" cy="221" rx="6" ry="10.5" transform="rotate(35 274.5 221)"/>
<ellipse cx="276" cy="220" rx="3.2" ry="6.5" transform="rotate(35 276 220)"/>
</g>
<g id="p15" class="pt">
<path d="M360.8 262.9 L360.9 261.2 L361.1 259.4 L361.5 257.7 L362.0 256.0 L362.7 254.4 L363.5 252.9 L364.4 251.5 L365.4 250.2 L366.5 249.2 L367.6 248.3 L368.8 247.6 L376.8 243.6 L378.0 243.1 L379.2 242.8 L380.4 242.8 L381.5 243.0 L382.6 243.4 L383.6 244.0 L384.5 244.8 L385.3 245.8 L385.9 247.0 L386.5 248.4 L386.9 249.9 L387.1 251.4 L387.2 253.1 L387.1 254.8 L386.9 256.6 L386.5 258.3 L386.0 260.0 L385.3 261.6 L384.5 263.1 L383.6 264.5 L382.6 265.8 L381.5 266.8 L380.4 267.7 L379.2 268.4 L371.2 272.4 L370.0 272.9 L368.8 273.2 L367.6 273.2 L366.5 273.0 L365.4 272.6 L364.4 272.0 L363.5 271.2 L362.7 270.1 L362.1 269.0 L361.5 267.6 L361.1 266.1 L360.9 264.6 Z"/>
<ellipse cx="370.0" cy="260.0" rx="8.8" ry="13.5" transform="rotate(15 370.0 260.0)"/>
<ellipse cx="370.0" cy="260.0" rx="5.98" ry="9.18" transform="rotate(15 370.0 260.0)"/>

</g>
<g id="p14" class="pt">
<path d="M299 254 L304 253 L318 252 L330 252.5 Q340 255 348 265 L352.5 276 L354.5 283 L354.5 319 L350 320 L335 319.5 L320 313.5 L306 301.5 L298.5 291 Z"/>
<path class="pn" d="M318 255 L330 255.5 Q339 258 346 267 L350 277 L350 283 M349.5 283 L349.5 319"/>
<path class="pn" d="M353 284 L353 303 M304 253 L310 252 M301 258 L305 262 L302 266"/>
<path class="pn" d="M342 281 l4 -1 l2 3 l-2 3 l2 3 l-3 1 l-2 -3 Z M343 314 l3 -2 l3 2 l-1 3 Z"/>
<path class="pn" d="M309 270 Q302 283 306 296 Q312 308 323 311 Q335 312 340 302 Q344 290 339 279 Q334 270 326 267"/>
<path class="pn" d="M311.5 274 Q306 285 309.5 296 Q315 305 323.5 307 Q333 308 336.5 300 Q340 290 336 281 Q332 273 325 271"/>
<path class="pn" d="M315 276 Q310.5 286 313.5 295.5 Q318 303 324 303.5 Q331 304 333.5 297.5 Q336 290 332.5 282 Q329 276 323 275"/>
<ellipse cx="324.5" cy="289.5" rx="7.5" ry="12" transform="rotate(-25 324.5 289.5)"/>
<path class="pn" d="M323 283 L327 293"/>
<circle cx="321.5" cy="268.5" r="3.6"/>
<circle cx="321.5" cy="268.5" r="1.8"/>
<circle cx="301.5" cy="291" r="3.4"/>
</g>

<path class="ln" d="M296 207 L314.3 197 L314.3 277"/>
<g id="p1" class="pt">
<path d="M168 762 L173 759.5 L185 754 Q186.8 749.6 189.5 751.8 Q191.2 747.4 194.0 749.6 Q195.8 745.2 198.5 747.4 Q200.2 742.8 203.0 745.0 Q204.8 740.4 207.5 742.6 Q209 740 213 741 Q218 744 220 750 Q221.5 755 220.5 762 Z"/>
<path class="pn" d="M185.0 754.0 Q190.0 755.5 191.0 762 M189.5 751.8 Q194.5 753.3 195.5 762 M194.0 749.6 Q199.0 751.1 200.0 762 M198.5 747.4 Q203.5 748.9 204.5 762 M203.0 745.0 Q208.0 746.5 209.0 762 M207.5 742.6 Q212.5 744.1 213.5 762 M211 741.5 Q216 746 216 762"/>
</g>

<g id="pill">
<ellipse cx="200" cy="481.9" rx="17.8" ry="13.2" style="fill:#e01212;stroke:#2a0a0a;stroke-width:1.8"/>
</g>

<g class="lb">
<text x="589.28" y="47.77" transform="translate(604.00 0) scale(1.04 1) translate(-604.00 0)">26</text>
<text x="547.37" y="73.62" transform="translate(562.20 0) scale(1.04 1) translate(-562.20 0)">25</text>
<text x="504.57" y="98.00" transform="translate(519.70 0) scale(1.04 1) translate(-519.70 0)">24</text>
<text x="466.01" y="119.55" transform="translate(480.62 0) scale(1.04 1) translate(-480.62 0)">27</text>
<text x="405.53" y="156.90" transform="translate(420.25 0) scale(1.04 1) translate(-420.25 0)">23</text>
<text x="232.65" y="162.42" transform="translate(247.30 0) scale(1.04 1) translate(-247.30 0)">20</text>
<text x="322.95" y="201.24" transform="translate(338.15 0) scale(1.04 1) translate(-338.15 0)">15</text>
<text x="62.12" y="249.77" transform="translate(77.20 0) scale(1.04 1) translate(-77.20 0)">19</text>
<text x="14.58" y="276.72" transform="translate(29.75 0) scale(1.04 1) translate(-29.75 0)">18</text>
<text x="175.41" y="287.12" transform="translate(190.40 0) scale(1.04 1) translate(-190.40 0)">17</text>
<text x="224.41" y="260.47" transform="translate(239.50 0) scale(1.04 1) translate(-239.50 0)">16</text>
<text x="68.49" y="349.42" transform="translate(83.20 0) scale(1.04 1) translate(-83.20 0)">29</text>
<text x="21.25" y="377.05" transform="translate(35.75 0) scale(1.04 1) translate(-35.75 0)">30</text>
<text x="427.10" y="348.62" transform="translate(442.60 0) scale(1.04 1) translate(-442.60 0)">14</text>
<text x="379.53" y="377.95" transform="translate(394.20 0) scale(1.04 1) translate(-394.20 0)">22</text>
<text x="331.02" y="405.05" transform="translate(345.85 0) scale(1.04 1) translate(-345.85 0)">21</text>
<text x="282.49" y="432.25" transform="translate(297.00 0) scale(1.04 1) translate(-297.00 0)">32</text>
<text x="233.34" y="460.25" transform="translate(247.90 0) scale(1.04 1) translate(-247.90 0)">33</text>
<text x="740.47" y="328.42" transform="translate(755.50 0) scale(1.04 1) translate(-755.50 0)">10</text>
<text x="685.51" y="364.82" transform="translate(692.85 0) scale(1.04 1) translate(-692.85 0)">9</text>
<text x="630.17" y="396.82" transform="translate(637.55 0) scale(1.04 1) translate(-637.55 0)">8</text>
<text x="594.69" y="416.19" transform="translate(602.10 0) scale(1.04 1) translate(-602.10 0)">5</text>
<text x="549.74" y="442.22" transform="translate(557.10 0) scale(1.04 1) translate(-557.10 0)">7</text>
<text x="504.57" y="470.37" transform="translate(511.95 0) scale(1.04 1) translate(-511.95 0)">6</text>
<text x="413.75" y="520.82" transform="translate(421.25 0) scale(1.04 1) translate(-421.25 0)">4</text>
<text x="269.46" y="604.85" transform="translate(276.65 0) scale(1.04 1) translate(-276.65 0)">3</text>
<text x="74.22" y="716.37" transform="translate(82.05 0) scale(1.04 1) translate(-82.05 0)">1</text>
<text x="726.80" y="589.12" transform="translate(742.00 0) scale(1.04 1) translate(-742.00 0)">11</text>
<text x="776.16" y="561.10" transform="translate(791.25 0) scale(1.04 1) translate(-791.25 0)">13</text>
</g>
<g id="wm" style="opacity:0.6;font-family:'Liberation Sans',sans-serif;font-weight:bold;font-style:italic;font-size:35.6px;fill:#6991c5;stroke:#6991c5;stroke-width:0.9">
<text x="294.4" y="409.8" textLength="67.5" lengthAdjust="spacingAndGlyphs">Frid</text>
<text x="364.4" y="409.8" textLength="31.4" lengthAdjust="spacingAndGlyphs">av</text>
<text x="408.9" y="409.8" textLength="90.6" lengthAdjust="spacingAndGlyphs">Parts</text>
<text x="501.5" y="390.5" style="font-size:7px;font-style:normal;font-weight:normal;stroke:none">®</text>
</g>
<path d="M376.5 404 Q379.5 409 382 414.5 Q384 414.5 386 411 L407.5 387" style="fill:none;stroke:#f6c890;stroke-width:4.3;stroke-linecap:round;stroke-linejoin:round"/>
<text x="186.6" y="491" style="font-family:'Liberation Sans',sans-serif;font-weight:bold;font-size:26.5px;fill:#fff;stroke:#fff;stroke-width:0.8">28</text>
<rect x="0" y="402.5" width="1.1" height="3" fill="#3030c8"/>
<rect x="0" y="0" width="800" height="36.5" fill="#fff"/>
<rect x="0" y="759.5" width="800" height="41" fill="#fff"/>
</svg>
</body></html>
